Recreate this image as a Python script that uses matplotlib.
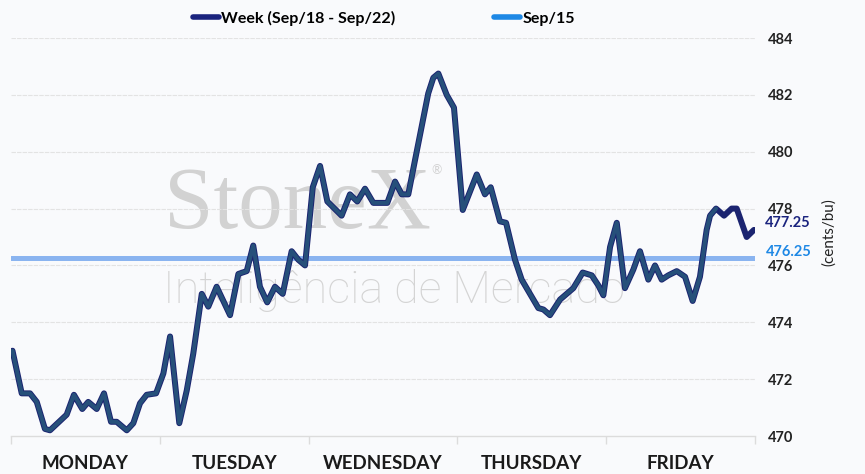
import matplotlib.pyplot as plt
from matplotlib.lines import Line2D
from matplotlib.transforms import blended_transform_factory
import numpy as np

# session time (in trading days from Monday open) and price (cents/bu)
tempo = [0.01, 0.072, 0.128, 0.173, 0.228, 0.262, 0.374, 0.423, 0.479, 0.519,
         0.576, 0.625, 0.672, 0.710, 0.778, 0.822, 0.867, 0.912, 0.975,
         1.024, 1.069, 1.131, 1.181, 1.225, 1.282, 1.326, 1.382, 1.472, 1.528,
         1.584, 1.628, 1.673, 1.722, 1.774, 1.826, 1.886, 1.931, 1.976,
         2.028, 2.077, 2.126, 2.222, 2.278, 2.327, 2.379, 2.435, 2.529, 2.581,
         2.626, 2.670, 2.715, 2.804, 2.838, 2.872, 2.928, 2.977,
         3.036, 3.130, 3.185, 3.224, 3.286, 3.327, 3.387, 3.432, 3.544, 3.578,
         3.622, 3.690, 3.779, 3.842, 3.903, 3.947, 3.981,
         4.026, 4.071, 4.126, 4.182, 4.227, 4.283, 4.328, 4.373, 4.417, 4.474,
         4.530, 4.581, 4.630, 4.675, 4.698, 4.738, 4.792, 4.843, 4.877, 4.944, 4.993]
semana = [473.0, 471.5, 471.5, 471.2, 470.25, 470.2, 470.75, 471.45, 470.95, 471.2,
          470.95, 471.5, 470.5, 470.5, 470.2, 470.45, 471.15, 471.45, 471.5,
          472.2, 473.5, 470.45, 471.6, 472.9, 475.0, 474.55, 475.25, 474.25, 475.7,
          475.8, 476.7, 475.25, 474.7, 475.25, 475.0, 476.5, 476.2, 476.0,
          478.75, 479.5, 478.25, 477.75, 478.5, 478.25, 478.7, 478.2, 478.2, 478.95,
          478.5, 478.5, 479.7, 482.05, 482.6, 482.75, 482.0, 481.55,
          477.95, 479.2, 478.5, 478.75, 477.55, 477.5, 476.2, 475.5, 474.5, 474.45,
          474.25, 474.8, 475.2, 475.75, 475.65, 475.3, 474.95,
          476.65, 477.5, 475.2, 475.85, 476.5, 475.5, 476.0, 475.5, 475.65, 475.8,
          475.6, 474.75, 475.6, 477.25, 477.75, 478.0, 477.75, 478.0, 478.0, 477.0, 477.25]
fechamento_anterior = 476.25
dias = ['MONDAY', 'TUESDAY', 'WEDNESDAY', 'THURSDAY', 'FRIDAY']
yticks = [470, 472, 474, 476, 478, 480, 482, 484]

NAVY = '#1b2470'
AZUL = '#26507a'
CLARO = '#8ab4f0'
AZUL_LEG = '#1e88e5'
FUNDO = '#f9fafc'

plt.rcParams['font.family'] = ['Lato', 'DejaVu Sans']

fig = plt.figure(figsize=(8.65, 4.74), dpi=100, facecolor=FUNDO)
ax = fig.add_axes([11 / 865, 38 / 474, 744 / 865, 398 / 474])
ax.set_facecolor(FUNDO)
ax.set_xlim(0, 5)
ax.set_ylim(470, 484)

# marca d'agua
ax.text(0.205, 0.522, 'StoneX', transform=ax.transAxes, fontsize=64,
        family='Liberation Serif', color='#d2d2d2', ha='left', va='baseline', zorder=0)
ax.text(0.572, 0.668, '®', transform=ax.transAxes, fontsize=9,
        color='#d2d2d2', ha='center', va='center', zorder=0)
ax.text(0.204, 0.334, 'Inteligência de Mercado', transform=ax.transAxes, fontsize=32.5,
        family='Roboto', fontweight='light', color='#d4d4d4', ha='left',
        va='baseline', zorder=0)

for v in yticks[1:]:
    ax.axhline(v, color='#e3e3e3', lw=0.8, ls=(0, (4, 1)), zorder=1)
ax.axhline(470, color='#dcdcdc', lw=1.0, zorder=1, clip_on=False)

# linha do dia anterior
ax.plot([0, 5], [fechamento_anterior] * 2, color=CLARO, lw=3.6,
        solid_capstyle='round', zorder=2)

t = np.array(tempo)
p = np.array(semana)
ax.plot(t, p, color=NAVY, lw=4.3, solid_joinstyle='round',
        solid_capstyle='round', zorder=3)
m = t <= 4.74
ax.plot(t[m], p[m], color=AZUL, lw=2.9, solid_joinstyle='round',
        solid_capstyle='round', zorder=4)

for s in ax.spines.values():
    s.set_visible(False)

ax.set_xticks([0, 1, 2, 3, 4, 5])
ax.set_xticklabels([])
ax.tick_params(axis='x', which='major', length=6, color='#dcdcdc', width=1)
ax.set_xticks([0.5, 1.5, 2.5, 3.5, 4.5], minor=True)
ax.set_xticklabels(dias, minor=True, fontsize=13.5, fontweight='bold', color='#1a1a1a')
ax.tick_params(axis='x', which='minor', length=0, pad=14)

ax.yaxis.tick_right()
ax.set_yticks(yticks)
ax.set_yticklabels([str(v) for v in yticks], fontsize=10.5, fontweight='bold', color='#222222')
ax.tick_params(axis='y', length=0, pad=9)

tr = blended_transform_factory(ax.transAxes, ax.transData)
ax.annotate('477.25', xy=(1, semana[-1]), xycoords=tr, xytext=(7, 5),
            textcoords='offset points', fontsize=10.5, fontweight='bold',
            color='#1a237e', ha='left', va='center')
ax.annotate('476.25', xy=(1, fechamento_anterior), xycoords=tr, xytext=(8, 4.5),
            textcoords='offset points', fontsize=10.5, fontweight='bold',
            color=AZUL_LEG, ha='left', va='center')

fig.text(829 / 865, 1 - 232 / 474, '(cents/bu)', rotation=90, fontsize=11,
         color='#222222', ha='center', va='center')

handles = [Line2D([0], [0], color='#1a237e', lw=4, solid_capstyle='round'),
           Line2D([0], [0], color=AZUL_LEG, lw=4, solid_capstyle='round')]
fig.legend(handles, ['Week (Sep/18 - Sep/22)', 'Sep/15'], loc='center',
           bbox_to_anchor=(384 / 865, 1 - 18 / 474), ncol=2, frameon=False,
           handlelength=1.6, handletextpad=0.15, columnspacing=6.2,
           prop={'weight': 'bold', 'size': 11.5})

fig.savefig('out.png', dpi=100, facecolor=FUNDO)
